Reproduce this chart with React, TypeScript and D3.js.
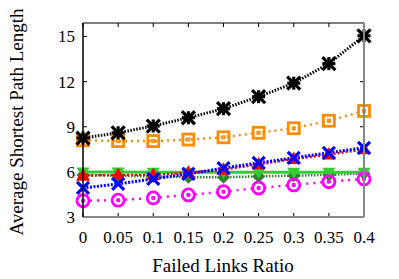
import React from 'react';
import * as d3 from 'd3';

// canvas
const width = 399;
const height = 279;
const margin = { left: 83, right: 35, top: 23, bottom: 62 };

// data
const ratios = [0, 0.05, 0.1, 0.15, 0.2, 0.25, 0.3, 0.35, 0.4];
const ratioLabels = ['0', '0.05', '0.1', '0.15', '0.2', '0.25', '0.3', '0.35', '0.4'];
const yTicks = [3, 6, 9, 12, 15];

const blackVals = [8.25, 8.6, 9.05, 9.6, 10.2, 11.0, 11.9, 13.2, 15.05];
const orangeVals = [8.1, 8.05, 8.05, 8.15, 8.3, 8.6, 8.9, 9.4, 10.05];
const greenVals = [6.0, 6.0, 5.98, 5.97, 5.97, 5.97, 5.97, 5.97, 5.98];
const darkGreenVals = [5.8, 5.75, 5.7, 5.65, 5.65, 5.7, 5.75, 5.8, 5.9];
const redVals = [5.75, 5.8, 5.8, 5.95, 6.15, 6.5, 6.85, 7.15, 7.5];
const blueVals = [4.93, 5.2, 5.53, 5.87, 6.25, 6.6, 6.93, 7.27, 7.6];
const magentaVals = [4.08, 4.12, 4.27, 4.47, 4.68, 4.93, 5.13, 5.35, 5.53];

const innerW = width - margin.left - margin.right;
const innerH = height - margin.top - margin.bottom;

const x = d3.scaleLinear().domain([0, 0.4]).range([0, innerW]);
const y = d3.scaleLinear().domain([3, 15.9]).range([innerH, 0]);

const lineGen = d3
  .line<number>()
  .x((_, i) => x(ratios[i]))
  .y((d) => y(d));

type Marker = 'star' | 'square' | 'tridown' | 'diamond' | 'triup' | 'cross' | 'circle';

const series: { vals: number[]; color: string; dash: string; lw: number; marker: Marker }[] = [
  { vals: darkGreenVals, color: '#2f7f2f', dash: '1.5,1.5', lw: 2.5, marker: 'diamond' },
  { vals: greenVals, color: '#33cc33', dash: 'none', lw: 3, marker: 'tridown' },
  { vals: orangeVals, color: '#ff8c00', dash: '2,4', lw: 2.5, marker: 'square' },
  { vals: blackVals, color: '#000000', dash: '1.5,1.5', lw: 3, marker: 'star' },
  { vals: redVals, color: '#ff0000', dash: '2,2', lw: 2.5, marker: 'triup' },
  { vals: blueVals, color: '#0000ff', dash: '2,1.5', lw: 3, marker: 'cross' },
  { vals: magentaVals, color: '#ff00ff', dash: '2,5', lw: 2.5, marker: 'circle' },
];

const drawMarker = (m: Marker, color: string, key: string) => {
  const s = 6.5;
  switch (m) {
    case 'star':
      return (
        <g key={key} stroke={color} strokeWidth={3.2}>
          <line x1={-s} y1={-s} x2={s} y2={s} />
          <line x1={-s} y1={s} x2={s} y2={-s} />
          <line x1={-s} y1={0} x2={s} y2={0} />
          <line x1={0} y1={-s} x2={0} y2={s} />
        </g>
      );
    case 'square':
      return (
        <g key={key} stroke={color} fill="none">
          <rect x={-5.5} y={-5.5} width={11} height={11} strokeWidth={2.8} />
          <rect x={-1.3} y={-1.3} width={2.6} height={2.6} strokeWidth={1.5} />
        </g>
      );
    case 'tridown':
      return <path key={key} d="M-6.5,-4.5L6.5,-4.5L0,6.5Z" fill={color} />;
    case 'diamond':
      return <path key={key} d="M0,-6.5L6.5,0L0,6.5L-6.5,0Z" fill={color} />;
    case 'triup':
      return <path key={key} d="M0,-7.5L7,5L-7,5Z" fill={color} />;
    case 'cross':
      return (
        <g key={key} stroke={color} strokeWidth={3.2}>
          <line x1={-6} y1={-6} x2={6} y2={6} />
          <line x1={-6} y1={6} x2={6} y2={-6} />
        </g>
      );
    case 'circle':
      return (
        <g key={key} stroke={color} fill="none">
          <circle r={6} strokeWidth={2.8} />
          <circle r={1.4} strokeWidth={1.6} />
        </g>
      );
  }
};

const font = '"Liberation Serif", "Times New Roman", serif';

const App = () => (
  <svg width={width} height={height} style={{ position: 'absolute', left: 0, top: 0 }}>
    <rect width={width} height={height} fill="white" />
    <g transform={`translate(${margin.left},${margin.top})`}>
      {/* ticks */}
      {ratios.map((r) => (
        <g key={'xt' + r}>
          <line x1={x(r)} x2={x(r)} y1={0} y2={4} stroke="black" strokeWidth={1} />
          <line x1={x(r)} x2={x(r)} y1={innerH} y2={innerH - 4} stroke="black" strokeWidth={1} />
        </g>
      ))}
      {yTicks.map((t) => (
        <g key={'yt' + t}>
          <line x1={0} x2={4} y1={y(t)} y2={y(t)} stroke="black" strokeWidth={1} />
          <line x1={innerW} x2={innerW - 4} y1={y(t)} y2={y(t)} stroke="black" strokeWidth={1} />
        </g>
      ))}

      {/* series */}
      {series.map((s, si) => (
        <g key={'s' + si}>
          <path
            d={lineGen(s.vals) || ''}
            fill="none"
            stroke={s.color}
            strokeWidth={s.lw}
            strokeDasharray={s.dash}
          />
          {s.vals.map((v, i) => (
            <g key={i} transform={`translate(${x(ratios[i])},${y(v)})`}>
              {drawMarker(s.marker, s.color, 'm' + si + '-' + i)}
            </g>
          ))}
        </g>
      ))}

      {/* frame */}
      <line x1={0} x2={innerW} y1={0} y2={0} stroke="black" strokeWidth={1.2} />
      <line x1={innerW} x2={innerW} y1={0} y2={innerH} stroke="#888" strokeWidth={2} />
      <line x1={0} x2={innerW} y1={innerH} y2={innerH} stroke="#888" strokeWidth={2} />
      <line x1={0} x2={0} y1={0} y2={innerH} stroke="black" strokeWidth={1.5} />

      {/* tick labels */}
      {ratios.map((r, i) => (
        <text
          key={'xl' + r}
          x={x(r)}
          y={innerH + 26}
          textAnchor="middle"
          fontFamily={font}
          fontSize={17}
        >
          {ratioLabels[i]}
        </text>
      ))}
      {yTicks.map((t) => (
        <text
          key={'yl' + t}
          x={-8}
          y={y(t)}
          dy="0.35em"
          textAnchor="end"
          fontFamily={font}
          fontSize={17}
        >
          {t}
        </text>
      ))}
    </g>

    {/* axis titles */}
    <text x={223} y={272} textAnchor="middle" fontFamily={font} fontSize={19}>
      Failed Links Ratio
    </text>
    <text
      transform="translate(23,122) rotate(-90)"
      textAnchor="middle"
      fontFamily={font}
      fontSize={19}
    >
      Average Shortest Path Length
    </text>
  </svg>
);

export default App;
